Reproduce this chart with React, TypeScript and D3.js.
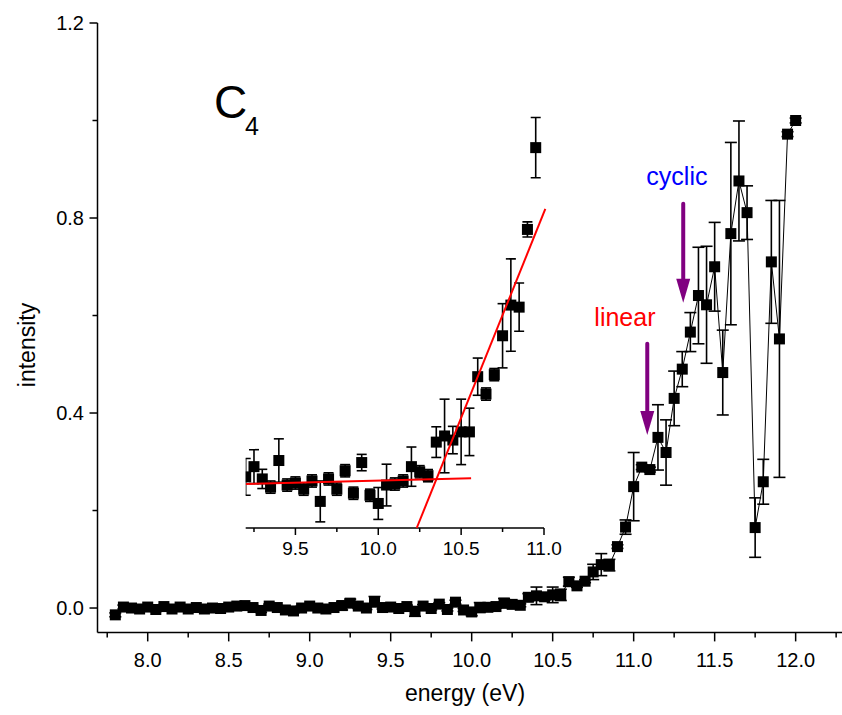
import * as d3 from "d3";

// photon energy grid (eV)
const energies = [
  7.8, 7.85, 7.9, 7.95, 8.0, 8.05, 8.1, 8.15, 8.2, 8.25, 8.3, 8.35, 8.4, 8.45, 8.5, 8.55, 8.6, 8.65, 8.7, 8.75,
  8.8, 8.85, 8.9, 8.95, 9.0, 9.05, 9.1, 9.15, 9.2, 9.25, 9.3, 9.35, 9.4, 9.45, 9.5, 9.55, 9.6, 9.65, 9.7, 9.75,
  9.8, 9.85, 9.9, 9.95, 10.0, 10.05, 10.1, 10.15, 10.2, 10.25, 10.3, 10.35, 10.4, 10.45, 10.5, 10.55, 10.6, 10.65,
  10.7, 10.75, 10.8, 10.85, 10.9, 10.95, 11.0, 11.05, 11.1, 11.15, 11.2, 11.25, 11.3, 11.35, 11.4, 11.45, 11.5,
  11.55, 11.6, 11.65, 11.7, 11.75, 11.8, 11.85, 11.9, 11.95, 12.0,
];

const intensity = [
  -0.014, 0.002, 0.0, -0.002, 0.002, -0.003, 0.003, -0.002, 0.002, -0.002, 0.001, -0.002, 0.0, -0.001, 0.002, 0.004,
  0.005, 0.001, -0.005, 0.004, 0.001, -0.004, -0.006, 0.0, 0.004, 0.0, -0.002, 0.001, 0.005, 0.01, 0.004, 0.0, 0.013,
  0.001, 0.002, -0.001, 0.003, -0.007, 0.004, -0.001, 0.008, -0.003, 0.012, -0.004, -0.008, 0.001, 0.0015, 0.003,
  0.01, 0.0075, 0.0056, 0.022, 0.025, 0.023, 0.027, 0.027, 0.054, 0.0455, 0.055, 0.074, 0.089, 0.088, 0.126, 0.166,
  0.249, 0.289, 0.284, 0.35, 0.319, 0.43, 0.49, 0.566, 0.641, 0.622, 0.7, 0.483, 0.768, 0.876, 0.811, 0.165, 0.259,
  0.71, 0.552, 0.972, 1.0,
];

const errors = [
  0.004, 0.004, 0.004, 0.004, 0.004, 0.004, 0.004, 0.004, 0.004, 0.004, 0.004, 0.004, 0.004, 0.004, 0.004, 0.004,
  0.004, 0.004, 0.004, 0.004, 0.004, 0.004, 0.004, 0.004, 0.004, 0.004, 0.004, 0.004, 0.009, 0.0083, 0.0047, 0.003,
  0.0106, 0.003, 0.003, 0.003, 0.003, 0.01, 0.003, 0.003, 0.003, 0.003, 0.004, 0.003, 0.0078, 0.0102, 0.003, 0.003,
  0.0096, 0.003, 0.003, 0.0075, 0.018, 0.0067, 0.016, 0.0116, 0.0091, 0.003, 0.003, 0.0157, 0.0226, 0.0118, 0.0037,
  0.0147, 0.07, 0.005, 0.005, 0.067, 0.067, 0.056, 0.036, 0.04, 0.099, 0.12, 0.091, 0.087, 0.187, 0.123, 0.055,
  0.061, 0.046, 0.126, 0.284, 0.005, 0.005,
];

const xTicks = [8.0, 8.5, 9.0, 9.5, 10.0, 10.5, 11.0, 11.5, 12.0];
const xMinor = [7.75, 8.25, 8.75, 9.25, 9.75, 10.25, 10.75, 11.25, 11.75, 12.25];
const yTicks = [0.0, 0.4, 0.8, 1.2];
const yMinor = [0.2, 0.6, 1.0];
const insetTicks = [9.5, 10.0, 10.5, 11.0];
const insetMinor = [9.25, 9.75, 10.25, 10.75];

// linear fits drawn in the inset: [energy, intensity] end points
const fitBaseline = [[9.2, 0.0015], [10.56, 0.0043]];
const fitOnset = [[10.232, -0.02], [11.008, 0.136]];

const arrows = [
  { label: "cyclic", color: "#0000ff", e: 11.306, top: 0.829, tip: 0.626, textE: 11.267, textY: 0.868 },
  { label: "linear", color: "#ff0000", e: 11.084, top: 0.542, tip: 0.355, textE: 10.946, textY: 0.578 },
];

const FONT = "'Liberation Sans', Arial, sans-serif";

export default function App() {
  const x = d3.scaleLinear().domain([7.69, 12.28]).range([97.5, 841]);
  const y = d3.scaleLinear().domain([-0.05, 1.2]).range([632.4, 23]);
  const ix = d3.scaleLinear().domain([9.2, 11.0]).range([245.7, 544]);
  const iy = d3.scaleLinear().domain([-0.02, 0.18]).range([528, 119]);

  const pts = energies.map((e, i) => ({ e, v: intensity[i], err: errors[i] }));
  const insetPts = pts.filter((p) => p.e >= 9.19 && p.e <= 10.96);

  const line = d3
    .line<{ e: number; v: number }>()
    .x((d) => x(d.e))
    .y((d) => y(d.v));

  const sq = 11;
  const cap = 6;

  return (
    <svg width={842} height={715} style={{ position: "absolute", left: 0, top: 0, background: "#fff" }} fontFamily={FONT}>
      <defs>
        <clipPath id="insetClip">
          <rect x={245.7} y={0} width={330} height={540} />
        </clipPath>
      </defs>

      {/* main axes */}
      <g stroke="#000" strokeWidth={1.5}>
        <line x1={x.range()[0]} x2={x.range()[0]} y1={y(1.2)} y2={632.4} />
        <line x1={x.range()[0]} x2={842} y1={632.4} y2={632.4} />
        {xTicks.map((t) => (
          <line key={t} x1={x(t)} x2={x(t)} y1={632.4} y2={641.4} />
        ))}
        {xMinor.map((t) => (
          <line key={t} x1={x(t)} x2={x(t)} y1={632.4} y2={637.4} />
        ))}
        {yTicks.map((t) => (
          <line key={t} x1={x.range()[0] - 8} x2={x.range()[0]} y1={y(t)} y2={y(t)} />
        ))}
        {yMinor.map((t) => (
          <line key={t} x1={x.range()[0] - 5} x2={x.range()[0]} y1={y(t)} y2={y(t)} />
        ))}
      </g>
      <g fontSize={20} fill="#000">
        {xTicks.map((t) => (
          <text key={t} x={x(t)} y={667} textAnchor="middle">
            {t.toFixed(1)}
          </text>
        ))}
        {yTicks.map((t) => (
          <text key={t} x={84} y={y(t)} dy="0.35em" textAnchor="end">
            {t.toFixed(1)}
          </text>
        ))}
      </g>
      <text x={465} y={701} fontSize={23} textAnchor="middle">
        energy (eV)
      </text>
      <text transform="translate(35,345) rotate(-90)" fontSize={23} textAnchor="middle">
        intensity
      </text>

      {/* main data */}
      <path d={line(pts) ?? ""} fill="none" stroke="#000" strokeWidth={1} />
      <g stroke="#000" strokeWidth={1.6}>
        {pts.map((p) => (
          <g key={p.e}>
            <line x1={x(p.e)} x2={x(p.e)} y1={y(p.v - p.err)} y2={y(p.v + p.err)} />
            <line x1={x(p.e) - cap} x2={x(p.e) + cap} y1={y(p.v + p.err)} y2={y(p.v + p.err)} />
            <line x1={x(p.e) - cap} x2={x(p.e) + cap} y1={y(p.v - p.err)} y2={y(p.v - p.err)} />
          </g>
        ))}
      </g>
      {pts.map((p) => (
        <rect key={p.e} x={x(p.e) - sq / 2} y={y(p.v) - sq / 2} width={sq} height={sq} fill="#000" />
      ))}

      {/* label */}
      <text x={214} y={118} fontSize={46}>
        C
      </text>
      <text x={245} y={135} fontSize={25}>
        4
      </text>

      {/* arrows */}
      {arrows.map((a) => {
        const ax = x(a.e);
        const tip = y(a.tip);
        return (
          <g key={a.label}>
            <text x={x(a.textE)} y={y(a.textY)} fontSize={25} textAnchor="middle" fill={a.color}>
              {a.label}
            </text>
            <line x1={ax} x2={ax} y1={y(a.top)} y2={tip - 18} stroke="#800080" strokeWidth={4} strokeLinecap="round" />
            <path d={`M${ax - 7},${tip - 24} L${ax + 7},${tip - 24} L${ax},${tip} Z`} fill="#800080" />
          </g>
        );
      })}

      {/* inset */}
      <g stroke="#000" strokeWidth={1.5}>
        <line x1={ix(9.2)} x2={ix(11.0)} y1={528} y2={528} />
        {insetTicks.map((t) => (
          <line key={t} x1={ix(t)} x2={ix(t)} y1={528} y2={535} />
        ))}
        {insetMinor.map((t) => (
          <line key={t} x1={ix(t)} x2={ix(t)} y1={528} y2={532} />
        ))}
      </g>
      <g fontSize={19}>
        {insetTicks.map((t) => (
          <text key={t} x={ix(t)} y={555} textAnchor="middle">
            {t.toFixed(1)}
          </text>
        ))}
      </g>
      <g clipPath="url(#insetClip)">
        <g stroke="#000" strokeWidth={1.6}>
          {insetPts.map((p) => (
            <g key={p.e}>
              <line x1={ix(p.e)} x2={ix(p.e)} y1={iy(p.v - p.err)} y2={iy(p.v + p.err)} />
              <line x1={ix(p.e) - 5} x2={ix(p.e) + 5} y1={iy(p.v + p.err)} y2={iy(p.v + p.err)} />
              <line x1={ix(p.e) - 5} x2={ix(p.e) + 5} y1={iy(p.v - p.err)} y2={iy(p.v - p.err)} />
            </g>
          ))}
        </g>
        {insetPts.map((p) => (
          <rect key={p.e} x={ix(p.e) - sq / 2} y={iy(p.v) - sq / 2} width={sq} height={sq} fill="#000" />
        ))}
        {[fitBaseline, fitOnset].map((f, i) => (
          <line
            key={i}
            x1={ix(f[0][0])}
            y1={iy(f[0][1])}
            x2={ix(f[1][0])}
            y2={iy(f[1][1])}
            stroke="#ff0000"
            strokeWidth={2}
          />
        ))}
      </g>
    </svg>
  );
}
